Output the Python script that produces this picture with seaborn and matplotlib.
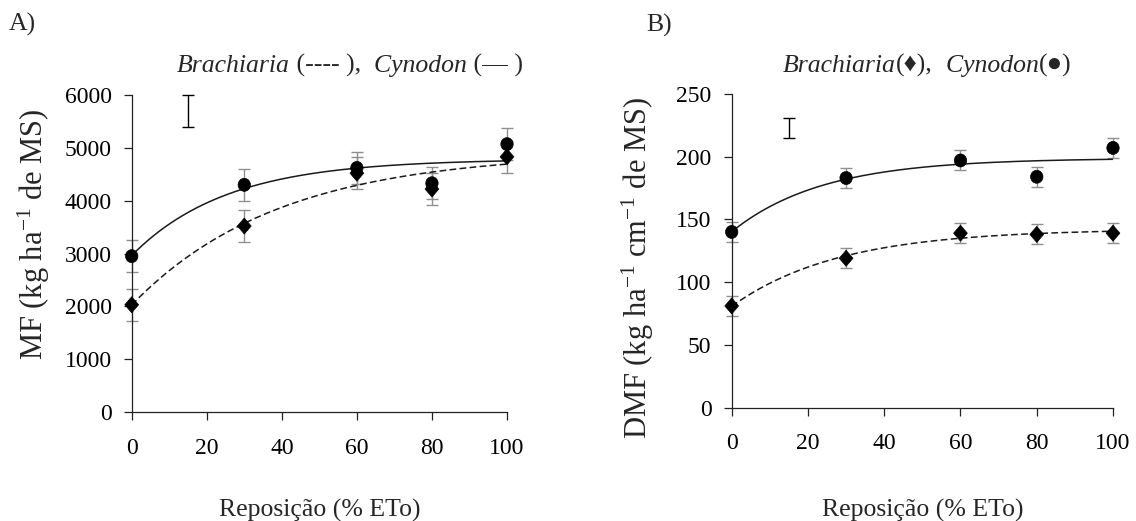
import matplotlib
matplotlib.use('Agg')
import matplotlib.pyplot as plt
from matplotlib.markers import MarkerStyle
from matplotlib.transforms import Affine2D
import seaborn as sns
import numpy as np
import pandas as pd

W, H = 1136, 521

# irrigation replacement levels (% ETo)
reposicao = [0, 30, 60, 80, 100]
x_ticks = [0, 20, 40, 60, 80, 100]

# A) forage mass (kg/ha DM)
mf_cynodon = [2950, 4300, 4620, 4330, 5070]
mf_brachiaria = [2030, 3520, 4520, 4220, 4830]
mf_err_cynodon = [300, 300, 300, 300, 300]
mf_err_brachiaria = [300, 300, 300, 300, 300]
mf_bar = [5400, 6000]
mf_ticks = [0, 1000, 2000, 3000, 4000, 5000, 6000]

# B) forage mass density (kg/ha/cm DM)
dmf_cynodon = [140, 183, 197, 184, 207]
dmf_brachiaria = [81, 119, 139, 138, 139]
dmf_err_cynodon = [8, 8, 8, 8, 8]
dmf_err_brachiaria = [8, 8, 8, 8, 8]
dmf_bar = [215, 231]
dmf_ticks = [0, 50, 100, 150, 200, 250]

bar_x = 15

sns.set_theme(style='ticks')
plt.rcParams['font.family'] = ['Liberation Serif', 'DejaVu Serif', 'DejaVu Sans']
plt.rcParams['mathtext.fontset'] = 'custom'
plt.rcParams['mathtext.rm'] = 'Liberation Serif'
plt.rcParams['mathtext.it'] = 'Liberation Serif:italic'

circle = MarkerStyle('o', transform=Affine2D().scale(0.95, 1.0))
diamond = MarkerStyle('D', transform=Affine2D().scale(0.75, 0.87))


def fit_exp(x, y):
    # y = a - b*exp(-c*x); grid over c, least squares for a and b
    x = np.asarray(x, float)
    y = np.asarray(y, float)
    best = None
    for c in np.linspace(0.002, 0.3, 1500):
        z = np.exp(-c * x)
        A = np.column_stack([np.ones_like(z), -z])
        coef, *_ = np.linalg.lstsq(A, y, rcond=None)
        sse = ((A @ coef - y) ** 2).sum()
        if best is None or sse < best[0]:
            best = (sse, coef[0], coef[1], c)
    return best[1:]


def panel(ax, cyn, bra, ecyn, ebra, bar, ticks):
    xs = np.linspace(0, 100, 201)
    for y, ls in [(bra, (0, (4.4, 2.2))), (cyn, '-')]:
        a, b, c = fit_exp(reposicao, y)
        curve = pd.DataFrame({'x': xs, 'y': a - b * np.exp(-c * xs)})
        sns.lineplot(data=curve, x='x', y='y', ax=ax, color='#1a1a1a',
                     linewidth=1.1, linestyle=ls, zorder=2)
    for y, e in [(cyn, ecyn), (bra, ebra)]:
        ax.errorbar(reposicao, y, yerr=e, fmt='none', ecolor='#8f8f8f',
                    elinewidth=1, capsize=4, capthick=1, zorder=1,
                    clip_on=False)
    df = pd.DataFrame({'x': reposicao * 2, 'y': cyn + bra,
                       'sp': ['Cynodon'] * 5 + ['Brachiaria'] * 5})
    sns.scatterplot(data=df, x='x', y='y', style='sp',
                    markers={'Cynodon': circle, 'Brachiaria': diamond},
                    color='black', edgecolor='black', linewidth=0.5, s=88,
                    legend=False, ax=ax, zorder=3, clip_on=False)
    # lone reference bar
    mid = (bar[0] + bar[1]) / 2
    ax.errorbar([bar_x], [mid], yerr=[(bar[1] - bar[0]) / 2], fmt='none',
                ecolor='black', elinewidth=1, capsize=4.5, capthick=1,
                clip_on=False)
    ax.set_xlim(0, 100)
    ax.set_ylim(ticks[0], ticks[-1])
    ax.set_xticks(x_ticks)
    ax.set_yticks(ticks)
    ax.set_xlabel('')
    ax.set_ylabel('')
    sns.despine(ax=ax)
    for s in ['left', 'bottom']:
        ax.spines[s].set_linewidth(0.9)
        ax.spines[s].set_color('#222222')
    ax.tick_params(direction='out', length=5.5, width=0.9, color='#222222',
                   labelsize=17, labelcolor='black')
    ax.tick_params(axis='x', pad=13)
    ax.tick_params(axis='y', pad=9)


def rich_text(fig, xc, ybase, pieces, size):
    # horizontally centred line made of several styled pieces
    r = fig.canvas.get_renderer()
    arts = []
    for s, st in pieces:
        t = fig.text(0, 1 - ybase / H, s, fontsize=size, style=st,
                     ha='left', va='baseline')
        arts.append(t)
    widths = [t.get_window_extent(r).width for t in arts]
    x = xc - sum(widths) / 2
    for t, w in zip(arts, widths):
        t.set_x(x / W)
        x += w


fig = plt.figure(figsize=(W / 100, H / 100), dpi=100)
fig.patch.set_facecolor('white')

axA = fig.add_axes([131.7 / W, 1 - 412 / H, (507 - 131.7) / W, (412 - 95) / H])
axB = fig.add_axes([731.7 / W, 1 - 407.5 / H, (1113 - 731.7) / W, (407.5 - 94) / H])

panel(axA, mf_cynodon, mf_brachiaria, mf_err_cynodon, mf_err_brachiaria,
      mf_bar, mf_ticks)
panel(axB, dmf_cynodon, dmf_brachiaria, dmf_err_cynodon, dmf_err_brachiaria,
      dmf_bar, dmf_ticks)

fig.text(9 / W, 1 - 24 / H, 'A)', fontsize=18.5, ha='left', va='center')
fig.text(646 / W, 1 - 25 / H, 'B)', fontsize=18.5, ha='left', va='center')

rich_text(fig, 350, 72, [('Brachiaria', 'italic'), (' (---- ),', 'normal'),
                         ('  Cynodon', 'italic'), (' (\u2014 )', 'normal')], 18.5)
rich_text(fig, 927, 72, [('Brachiaria', 'italic'), ('(\u2666),', 'normal'),
                         ('  Cynodon', 'italic'), ('(\u25cf)', 'normal')], 18.5)

fig.text(320 / W, 1 - 517 / H, 'Reposição (% ETo)', fontsize=18.5,
         ha='center', va='baseline')
fig.text(923 / W, 1 - 517 / H, 'Reposição (% ETo)', fontsize=18.5,
         ha='center', va='baseline')

fig.text(34 / W, 1 - 234 / H, r'MF (kg ha$^{-1}$ de MS)', fontsize=22,
         rotation=90, ha='center', va='center')
fig.text(638 / W, 1 - 268 / H, r'DMF (kg ha$^{-1}$ cm$^{-1}$ de MS)',
         fontsize=22, rotation=90, ha='center', va='center')

fig.savefig('out.png', dpi=100, facecolor='white')
